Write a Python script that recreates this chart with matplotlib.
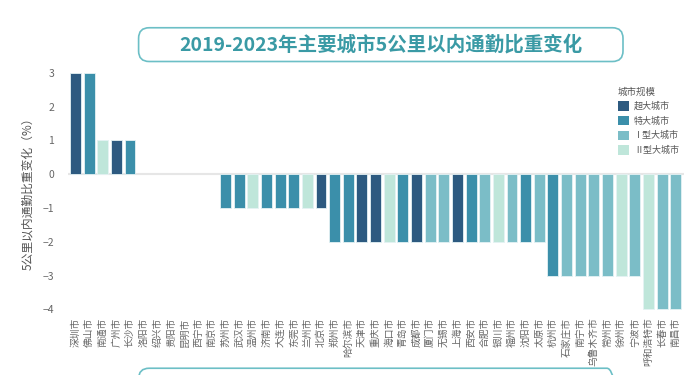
import matplotlib
matplotlib.use('Agg')
import matplotlib.pyplot as plt
from matplotlib.patches import Patch, FancyBboxPatch

plt.rcParams['font.family'] = ['Noto Sans CJK SC', 'DejaVu Sans']

# data
cities = ['深圳市', '佛山市', '南通市', '广州市', '长沙市', '洛阳市', '绍兴市', '贵阳市', '昆明市',
          '西宁市', '南京市', '苏州市', '武汉市', '温州市', '济南市', '大连市', '东莞市', '兰州市',
          '北京市', '郑州市', '哈尔滨市', '天津市', '重庆市', '海口市', '青岛市', '成都市', '厦门市',
          '无锡市', '上海市', '西安市', '合肥市', '银川市', '福州市', '沈阳市', '太原市', '杭州市',
          '石家庄市', '南宁市', '乌鲁木齐市', '常州市', '徐州市', '宁波市', '呼和浩特市', '长春市', '南昌市']
change = [3, 3, 1, 1, 1, 0, 0, 0, 0,
          0, 0, -1, -1, -1, -1, -1, -1, -1,
          -1, -2, -2, -2, -2, -2, -2, -2, -2,
          -2, -2, -2, -2, -2, -2, -2, -2, -3,
          -3, -3, -3, -3, -3, -3, -4, -4, -4]
# 0 超大, 1 特大, 2 I型, 3 II型
scale = [0, 1, 3, 0, 1, 1, 2, 2, 2,
         2, 0, 1, 1, 3, 1, 1, 1, 3,
         0, 1, 1, 0, 0, 3, 1, 0, 2,
         2, 0, 1, 2, 3, 2, 1, 2, 1,
         2, 2, 2, 2, 3, 2, 3, 2, 2]
scale_names = ['超大城市', '特大城市', 'Ⅰ型大城市', 'Ⅱ型大城市']
scale_colors = ['#2d5a80', '#3b8faa', '#7bbdc7', '#bfe6da']

fig = plt.figure(figsize=(7, 3.75), dpi=100)
ax = fig.add_axes([0.097, 0.157, 0.88, 0.667])

x = list(range(len(cities)))
colors = [scale_colors[s] for s in scale]
widths = [0.6 if v != 0 else 0 for v in change]
ax.bar(x, change, width=0.8, color=colors, edgecolor='#e4f2f4', linewidth=widths, zorder=2)
ax.axhline(0, color='#e6e6e6', lw=1.5, zorder=1)

ax.set_xlim(-0.55, 44.6)
ax.set_ylim(-4.2, 3.2)
ax.set_yticks([3, 2, 1, 0, -1, -2, -3, -4])
ax.set_xticks(x)
ax.set_xticklabels(cities, rotation=90, fontsize=7, color='#666666')
ax.tick_params(axis='both', length=0)
ax.tick_params(axis='y', labelsize=7.5, labelcolor='#666666', pad=10)
ax.tick_params(axis='x', pad=1)
for sp in ax.spines.values():
    sp.set_visible(False)

ax.set_ylabel('5公里以内通勤比重变化（%）', fontsize=8.5, color='#555555', labelpad=6)

handles = [Patch(facecolor=c, edgecolor='none') for c in scale_colors]
leg = fig.legend(handles, scale_names, title='城市规模', loc='upper left',
                 bbox_to_anchor=(0.876, 0.78), frameon=False, fontsize=6.5,
                 title_fontsize=6.8, handlelength=1.2, handleheight=1.2,
                 labelspacing=0.55, handletextpad=0.6, borderpad=0)
leg._legend_box.align = 'left'
for t in leg.get_texts():
    t.set_color('#555555')
leg.get_title().set_color('#555555')

# title box
box = FancyBboxPatch((0.198, 0.836), 0.692, 0.09, transform=fig.transFigure,
                     boxstyle='round,pad=0,rounding_size=0.015', facecolor='white',
                     edgecolor='#6cbfc6', linewidth=1.2, mutation_aspect=1.87)
fig.patches.append(box)
fig.text(0.544, 0.881, '2019-2023年主要城市5公里以内通勤比重变化', ha='center', va='center',
         fontsize=14, fontweight='bold', color='#3a9aa5')

# top of the next box, cut off at the bottom
box2 = FancyBboxPatch((0.198, -0.2), 0.684, 0.218, transform=fig.transFigure,
                      boxstyle='round,pad=0,rounding_size=0.015', facecolor='none',
                      edgecolor='#6cbfc6', linewidth=1.2, mutation_aspect=1.87)
fig.patches.append(box2)

fig.savefig('out.png', dpi=100)
